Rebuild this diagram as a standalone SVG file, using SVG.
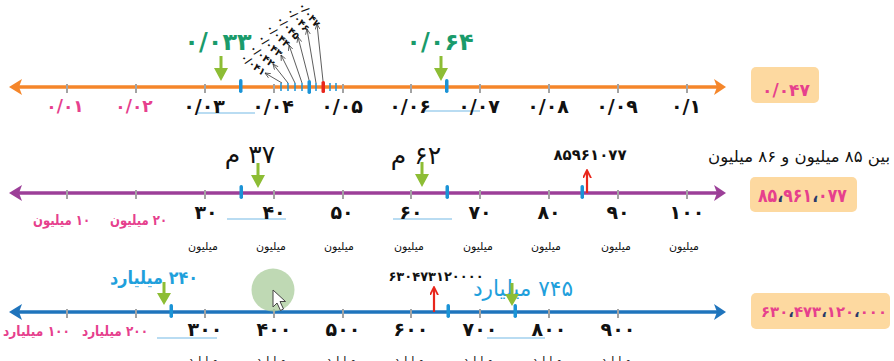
<svg xmlns="http://www.w3.org/2000/svg" width="894" height="361" viewBox="0 0 894 361">
<defs>
<style>
text{font-family:"DejaVu Sans",sans-serif;}
.tick{stroke:#a3a3a3;stroke-width:2;}
.mark{fill:#1b93d6;}
.pk{fill:#e6408d;font-weight:bold;font-size:14px;}
.pk1{fill:#e6408d;font-size:17px;font-weight:bold;}
.bk{fill:#111;font-weight:bold;font-size:19px;}
.mil{fill:#111;font-size:11px;}
.ul{stroke:#b9dcf2;stroke-width:2;}
.gr{fill:#8dbd35;}
.rd{stroke:#e8261c;stroke-width:2.2;fill:none;}
.fan{stroke:#333;stroke-width:0.8;fill:none;marker-end:url(#open);}
.fl{fill:#111;font-size:10px;font-weight:bold;}
.box{fill:#fdd9a0;}
.bx{fill:#e6408d;font-weight:bold;}
.cm{fill:#2a3a6a;}
</style>
<marker id="open" viewBox="0 0 10 10" refX="9" refY="5" markerWidth="6" markerHeight="6" orient="auto" markerUnits="userSpaceOnUse">
<path d="M0,1 L9,5 L0,9" fill="none" stroke="#333" stroke-width="1.2"/>
</marker>
<marker id="redhead" viewBox="0 0 10 10" refX="8" refY="5" markerWidth="9" markerHeight="9" orient="auto" markerUnits="userSpaceOnUse">
<path d="M0,0.5 L9,5 L0,9.5" fill="none" stroke="#e8261c" stroke-width="2"/>
</marker>
</defs>
<rect width="894" height="361" fill="#ffffff"/>

<!-- Line 1 : decimals -->
<g id="line1">
<line x1="16" y1="87" x2="718" y2="87" stroke="#f5862a" stroke-width="3.5"/>
<path d="M9,87 L22,79 L19,87 L22,95 Z" fill="#f5862a"/>
<path d="M726,87 L714,79 L717,87 L714,95 Z" fill="#f5862a"/>
<g class="tick">
<line x1="67" y1="84" x2="67" y2="93"/><line x1="136" y1="84" x2="136" y2="93"/><line x1="205" y1="84" x2="205" y2="93"/><line x1="274" y1="84" x2="274" y2="93"/><line x1="343" y1="84" x2="343" y2="93"/><line x1="411" y1="84" x2="411" y2="93"/><line x1="480" y1="84" x2="480" y2="93"/><line x1="549" y1="84" x2="549" y2="93"/><line x1="618" y1="84" x2="618" y2="93"/><line x1="687" y1="84" x2="687" y2="93"/>
</g>
<g stroke="#1b93d6" stroke-width="1.5">
<line x1="281" y1="83" x2="281" y2="91"/><line x1="288" y1="83" x2="288" y2="91"/><line x1="295" y1="83" x2="295" y2="91"/><line x1="302" y1="83" x2="302" y2="91"/><line x1="316" y1="83" x2="316" y2="91"/><line x1="330" y1="83" x2="330" y2="91"/><line x1="336" y1="83" x2="336" y2="91"/>
</g>
<rect x="307.5" y="80" width="3.5" height="14" rx="1.7" class="mark"/>
<rect x="321.5" y="81" width="3.5" height="12" rx="1.5" fill="#e8261c"/>
<rect x="239" y="79" width="3.5" height="14" rx="1.7" class="mark"/>
<rect x="445" y="79" width="3.5" height="14" rx="1.7" class="mark"/>
<line x1="196" y1="113" x2="255" y2="113" class="ul"/>
<line x1="424" y1="111" x2="480" y2="111" class="ul"/>
<text x="65" y="112" class="pk1" text-anchor="middle">۰/۰۱</text>
<text x="134" y="112" class="pk1" text-anchor="middle">۰/۰۲</text>
<text x="204" y="113" class="bk" text-anchor="middle">۰/۰۳</text>
<text x="273" y="113" class="bk" text-anchor="middle">۰/۰۴</text>
<text x="342" y="113" class="bk" text-anchor="middle">۰/۰۵</text>
<text x="410" y="113" class="bk" text-anchor="middle">۰/۰۶</text>
<text x="479" y="113" class="bk" text-anchor="middle">۰/۰۷</text>
<text x="548" y="113" class="bk" text-anchor="middle">۰/۰۸</text>
<text x="617" y="113" class="bk" text-anchor="middle">۰/۰۹</text>
<text x="686" y="113" class="bk" text-anchor="middle">۰/۱</text>
<text x="218" y="50" fill="#1a9b6b" font-weight="bold" font-size="24" text-anchor="middle">۰/۰۳۳</text>
<text x="440" y="50" fill="#1a9b6b" font-weight="bold" font-size="24" text-anchor="middle">۰/۰۶۴</text>
<g class="fl" text-anchor="middle">
<text x="253" y="68" transform="rotate(38 253 65)">۰/۰۴۱</text>
<text x="262" y="59" transform="rotate(40 262 56)">۰/۰۴۲</text>
<text x="270" y="49" transform="rotate(42 270 46)">۰/۰۴۳</text>
<text x="278" y="39" transform="rotate(44 278 36)">۰/۰۴۴</text>
<text x="288" y="31" transform="rotate(46 288 28)">۰/۰۴۵</text>
<text x="298" y="23" transform="rotate(48 298 20)">۰/۰۴۶</text>
<text x="309" y="18" transform="rotate(52 309 15)">۰/۰۴۷</text>
</g>
</g>
<g id="box1">
<rect x="751" y="67" width="68" height="36" rx="5" class="box"/>
<text x="786" y="96" class="bx" font-size="17" text-anchor="middle" textLength="48" lengthAdjust="spacingAndGlyphs">۰/۰۴۷</text>
</g>

<!-- Line 2 : millions -->
<g id="line2">
<line x1="16" y1="193" x2="718" y2="193" stroke="#9c3f98" stroke-width="3.5"/>
<path d="M9,193 L22,185 L19,193 L22,201 Z" fill="#9c3f98"/>
<path d="M726,193 L714,185 L717,193 L714,201 Z" fill="#9c3f98"/>
<g class="tick">
<line x1="67" y1="190" x2="67" y2="199"/><line x1="136" y1="190" x2="136" y2="199"/><line x1="205" y1="190" x2="205" y2="199"/><line x1="274" y1="190" x2="274" y2="199"/><line x1="343" y1="190" x2="343" y2="199"/><line x1="411" y1="190" x2="411" y2="199"/><line x1="480" y1="190" x2="480" y2="199"/><line x1="549" y1="190" x2="549" y2="199"/><line x1="618" y1="190" x2="618" y2="199"/><line x1="687" y1="190" x2="687" y2="199"/>
</g>
<rect x="239.5" y="185" width="3.5" height="14" rx="1.7" class="mark"/>
<rect x="445.5" y="185" width="3.5" height="14" rx="1.7" class="mark"/>
<rect x="580.5" y="185" width="3.5" height="14" rx="1.7" class="mark"/>
<line x1="227" y1="219" x2="286" y2="219" class="ul"/>
<line x1="393" y1="219" x2="452" y2="219" class="ul"/>
<text x="61.5" y="225" class="pk" text-anchor="middle" textLength="57" lengthAdjust="spacingAndGlyphs">&#x200F;۱۰ میلیون</text>
<text x="138.5" y="225" class="pk" text-anchor="middle" textLength="57" lengthAdjust="spacingAndGlyphs">&#x200F;۲۰ میلیون</text>
<text x="206" y="219" class="bk" font-size="21" text-anchor="middle">۳۰</text>
<text x="274" y="219" class="bk" font-size="21" text-anchor="middle">۴۰</text>
<text x="342" y="219" class="bk" font-size="21" text-anchor="middle">۵۰</text>
<text x="411" y="219" class="bk" font-size="21" text-anchor="middle">۶۰</text>
<text x="480" y="219" class="bk" font-size="21" text-anchor="middle">۷۰</text>
<text x="549" y="219" class="bk" font-size="21" text-anchor="middle">۸۰</text>
<text x="618" y="219" class="bk" font-size="21" text-anchor="middle">۹۰</text>
<text x="687" y="219" class="bk" font-size="21" text-anchor="middle">۱۰۰</text>
<g class="mil" text-anchor="middle">
<text x="203" y="250">میلیون</text><text x="271" y="250">میلیون</text><text x="339" y="250">میلیون</text><text x="409" y="250">میلیون</text><text x="478" y="250">میلیون</text><text x="546" y="250">میلیون</text><text x="616" y="250">میلیون</text><text x="684" y="250">میلیون</text>
</g>
<text x="250" y="163" fill="#111" font-size="25" text-anchor="middle">&#x200F;۳۷ م</text>
<text x="416" y="164" fill="#111" font-size="25" text-anchor="middle">&#x200F;۶۲ م</text>
<text x="590" y="160" fill="#111" font-size="15" font-weight="bold" text-anchor="middle">۸۵۹۶۱۰۷۷</text>
<text x="799" y="162" fill="#111" font-size="16" text-anchor="middle" textLength="182" lengthAdjust="spacingAndGlyphs">&#x200F;بین ۸۵ میلیون و ۸۶ میلیون</text>
</g>
<g id="box2">
<rect x="750" y="177" width="107" height="35" rx="5" class="box"/>
<text x="802.5" y="202" class="bx" font-size="19" text-anchor="middle" textLength="89" lengthAdjust="spacingAndGlyphs">۸۵<tspan class="cm">،</tspan>۹۶۱<tspan class="cm">،</tspan>۰۷۷</text>
</g>

<!-- Line 3 : billions -->
<g id="line3">
<line x1="16" y1="312" x2="718" y2="312" stroke="#1f74bc" stroke-width="3.5"/>
<path d="M9,312 L22,304 L19,312 L22,320 Z" fill="#1f74bc"/>
<path d="M726,312 L714,304 L717,312 L714,320 Z" fill="#1f74bc"/>
<g class="tick">
<line x1="67" y1="309" x2="67" y2="318"/><line x1="136" y1="309" x2="136" y2="318"/><line x1="205" y1="309" x2="205" y2="318"/><line x1="274" y1="309" x2="274" y2="318"/><line x1="343" y1="309" x2="343" y2="318"/><line x1="411" y1="309" x2="411" y2="318"/><line x1="480" y1="309" x2="480" y2="318"/><line x1="549" y1="309" x2="549" y2="318"/><line x1="618" y1="309" x2="618" y2="318"/>
</g>
<rect x="169.5" y="304" width="3.5" height="14" rx="1.7" class="mark"/>
<rect x="446.5" y="304" width="3.5" height="14" rx="1.7" class="mark"/>
<rect x="513.5" y="304" width="3.5" height="14" rx="1.7" class="mark"/>
<line x1="157" y1="338" x2="217" y2="338" class="ul"/>
<line x1="487" y1="338" x2="545" y2="338" class="ul"/>
<text x="36.5" y="336" class="pk" text-anchor="middle" textLength="67" lengthAdjust="spacingAndGlyphs">&#x200F;۱۰۰ میلیارد</text>
<text x="115" y="336" class="pk" text-anchor="middle" textLength="66" lengthAdjust="spacingAndGlyphs">&#x200F;۲۰۰ میلیارد</text>
<text x="205" y="336" class="bk" text-anchor="middle">۳۰۰</text>
<text x="274" y="336" class="bk" text-anchor="middle">۴۰۰</text>
<text x="343" y="336" class="bk" text-anchor="middle">۵۰۰</text>
<text x="411" y="336" class="bk" text-anchor="middle">۶۰۰</text>
<text x="480" y="336" class="bk" text-anchor="middle">۷۰۰</text>
<text x="549" y="336" class="bk" text-anchor="middle">۸۰۰</text>
<text x="618" y="336" class="bk" text-anchor="middle">۹۰۰</text>
<g class="mil" text-anchor="middle" font-size="13">
<text x="203" y="364">میلیارد</text><text x="271" y="364">میلیارد</text><text x="341" y="364">میلیارد</text><text x="409" y="364">میلیارد</text><text x="478" y="364">میلیارد</text><text x="547" y="364">میلیارد</text><text x="616" y="364">میلیارد</text>
</g>
<text x="154" y="284" fill="#1fa0dc" font-size="18" font-weight="bold" text-anchor="middle" textLength="88" lengthAdjust="spacingAndGlyphs">&#x200F;۲۴۰ میلیارد</text>
<text x="523" y="296" fill="#1fa0dc" font-size="22" text-anchor="middle" textLength="100" lengthAdjust="spacingAndGlyphs">&#x200F;۷۴۵ میلیارد</text>
<text x="436" y="281" fill="#111" font-size="13" font-weight="bold" text-anchor="middle">۶۳۰۴۷۳۱۲۰۰۰۰</text>
</g>
<g id="box3">
<rect x="751" y="293" width="139" height="36" rx="5" class="box"/>
<text x="824" y="317" class="bx" font-size="15" text-anchor="middle" textLength="126" lengthAdjust="spacingAndGlyphs">۶۳۰<tspan class="cm">،</tspan>۴۷۳<tspan class="cm">،</tspan>۱۲۰<tspan class="cm">،</tspan>۰۰۰</text>
</g>

<!-- connectors -->
<g id="connectors">
<g class="fan">
<line x1="282" y1="83" x2="265" y2="73"/>
<line x1="288" y1="83" x2="273" y2="64"/>
<line x1="295" y1="83" x2="281" y2="55"/>
<line x1="302" y1="83" x2="289" y2="45"/>
<line x1="309" y1="80" x2="298" y2="37"/>
<line x1="316" y1="83" x2="307" y2="29"/>
<line x1="323" y1="81" x2="317" y2="24"/>
</g>
<g class="gr">
<path d="M219.5,56 h3 v12 h5.5 l-7,13 l-7,-13 h5.5 z"/>
<path d="M439.5,56 h3 v12 h5.5 l-7,13 l-7,-13 h5.5 z"/>
<path d="M256.5,163 h3 v12 h5.5 l-7,13 l-7,-13 h5.5 z"/>
<path d="M420.5,162 h3 v12 h5.5 l-7,13 l-7,-13 h5.5 z"/>
<path d="M162.5,282 h3 v11 h5.5 l-7,12 l-7,-12 h5.5 z"/>
<path d="M510.5,283 h3 v11 h5.5 l-7,12 l-7,-12 h5.5 z"/>
</g>
<line x1="587" y1="193" x2="587" y2="171" class="rd" marker-end="url(#redhead)"/>
<line x1="434" y1="312" x2="434" y2="288" class="rd" marker-end="url(#redhead)"/>
</g>

<!-- cursor highlight -->
<circle cx="273" cy="290" r="21.5" fill="#a9cc9b" opacity="0.75"/>
<path d="M273,290 L273,307 L277,303 L280.5,310.5 L283.5,309 L280,301.5 L285.5,301.5 Z" fill="#ffffff" stroke="#444" stroke-width="1"/>
</svg>
